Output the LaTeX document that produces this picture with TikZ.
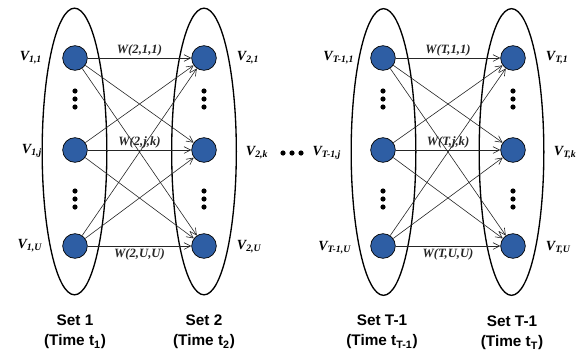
\documentclass[tikz,border=0pt]{standalone}
\usepackage{fontspec}
\setmainfont{Liberation Serif}
\setsansfont{Liberation Sans}
\usetikzlibrary{arrows.meta, positioning, shapes.geometric}
\definecolor{nodeblue}{RGB}{46,94,164}
\tikzset{
  every node/.style={inner sep=2pt},
  grp/.style   = {ellipse, draw=black, line width=1pt, minimum width=48.5pt,
                 minimum height=215pt, inner sep=0pt},
  user/.style  = {circle, draw=black, line width=0.5pt, fill=nodeblue,
                 minimum size=18.5pt, inner sep=0pt},
  vlab/.style  = {font=\fontsize{10.5}{12}\selectfont\bfseries\itshape},
  wlab/.style  = {font=\fontsize{9.5}{11}\selectfont\bfseries\itshape, inner sep=1.5pt},
  setlab/.style= {font=\fontsize{11.5}{15}\selectfont\sffamily\bfseries, align=center},
  arrow/.style = {-{Straight Barb[length=5pt,width=5pt]}, line width=0.45pt, black!85},
}

\begin{document}
\begin{tikzpicture}[x=0.75pt, y=-0.75pt]
  \useasboundingbox (0,0) rectangle (579,354);

  % ---- sets (ellipses) ----
  \node[grp] (s1) at (74.5,151.5) {};
  \node[grp] (s2) at (204,151.5)  {};
  \node[grp] (s3) at (383.5,152)  {};
  \node[grp] (s4) at (511.5,152)  {};

  % ---- users in set 1 and set 2 ----
  \node[user] (a1) at (75,58)   {};
  \node[user] (aj) at (75,150)  {};
  \node[user] (aU) at (75,246)  {};
  \node[user] (b1) at (204,58)  {};
  \node[user] (bk) at (204,150) {};
  \node[user] (bU) at (204,246) {};

  % ---- users in set T-1 and set T ----
  \node[user] (c1) at (383,58)  {};
  \node[user] (cj) at (383,150) {};
  \node[user] (cU) at (383,246) {};
  \node[user] (d1) at (513,58)  {};
  \node[user] (dk) at (513,150) {};
  \node[user] (dU) at (513,246) {};

  % ---- vertical dots ----
  \foreach \x in {75,204,383,513}
    \foreach \y in {91,99,107,191,199,207}
      \fill (\x,\y) circle (2.6);
  % ---- dots between the groups ----
  \foreach \x in {283,292,301}
    \fill (\x,153) circle (2.6);

  % ---- user labels ----
  \node[vlab, anchor=east] (la1) at (45,58)  {V\textsubscript{1,1}};
  \node[vlab, anchor=east] (laj) at (45,151) {V\textsubscript{1,j}};
  \node[vlab, anchor=east] (laU) at (45,246) {V\textsubscript{1,U}};
  \node[vlab, anchor=west] (lb1) at (234,58)  {V\textsubscript{2,1}};
  \node[vlab, anchor=west] (lbk) at (243,153) {V\textsubscript{2,k}};
  \node[vlab, anchor=west] (lbU) at (234,247) {V\textsubscript{2,U}};
  \node[vlab, anchor=east] (lc1) at (357,58)  {V\textsubscript{T-1,1}};
  \node[vlab, anchor=east] (lcj) at (344,153) {V\textsubscript{T-1,j}};
  \node[vlab, anchor=east] (lcU) at (354,248) {V\textsubscript{T-1,U}};
  \node[vlab, anchor=west] (ld1) at (543,58)  {V\textsubscript{T,1}};
  \node[vlab, anchor=west] (ldk) at (551,153) {V\textsubscript{T,k}};
  \node[vlab, anchor=west] (ldU) at (543,248) {V\textsubscript{T,U}};

  % ---- weighted links set 1 -> set 2 ----
  \draw[arrow] (a1) -- (b1) node[wlab, midway, above] {W(2,1,1)};
  \draw[arrow] (aj) -- (bk) node[wlab, midway, above] {W(2,j,k)};
  \draw[arrow] (aU) -- (bU) node[wlab, midway, below] {W(2,U,U)};
  \foreach \s/\t in {1/k, 1/U, j/1, j/U, U/1, U/k}
    \draw[arrow] (a\s) -- (b\t);

  % ---- weighted links set T-1 -> set T ----
  \draw[arrow] (c1) -- (d1) node[wlab, midway, above] {W(T,1,1)};
  \draw[arrow] (cj) -- (dk) node[wlab, midway, above] {W(T,j,k)};
  \draw[arrow] (cU) -- (dU) node[wlab, midway, below] {W(T,U,U)};
  \foreach \s/\t in {1/k, 1/U, j/1, j/U, U/1, U/k}
    \draw[arrow] (c\s) -- (d\t);

  % ---- set captions ----
  \node[setlab] (t1) at (75,332)  {Set 1\\(Time t\textsubscript{1})};
  \node[setlab] (t2) at (204,332) {Set 2\\(Time t\textsubscript{2})};
  \node[setlab] (t3) at (382,332) {Set T-1\\(Time t\textsubscript{T-1})};
  \node[setlab] (t4) at (512,333) {Set T-1\\(Time t\textsubscript{T})};
\end{tikzpicture}
\end{document}
